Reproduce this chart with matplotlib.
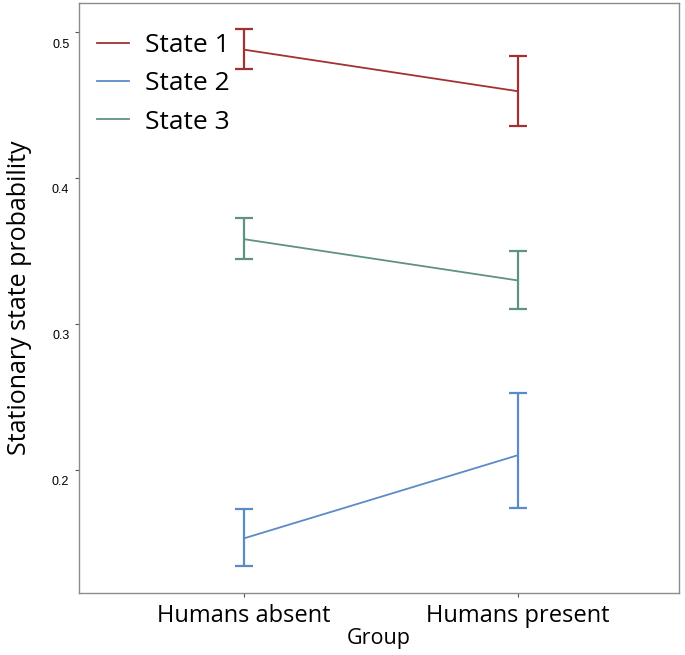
import numpy as np
import matplotlib
matplotlib.use("Agg")
import matplotlib.pyplot as plt
import matplotlib.transforms as mtransforms
from matplotlib.lines import Line2D

groups = ["Humans absent", "Humans present"]
states = ["State 1", "State 2", "State 3"]
means = {"State 1": [0.488, 0.4595],
         "State 2": [0.1528, 0.2098],
         "State 3": [0.358, 0.3297]}
upper = {"State 1": [0.5025, 0.4837],
         "State 2": [0.1732, 0.2522],
         "State 3": [0.3723, 0.3496]}
lower = {"State 1": [0.4746, 0.4353],
         "State 2": [0.1338, 0.1736],
         "State 3": [0.3441, 0.3098]}
colors = {"State 1": "#A23232", "State 2": "#5B8BC7", "State 3": "#5F937D"}
yticks = [0.2, 0.3, 0.4, 0.5]

fig = plt.figure(figsize=(6.85, 6.55), dpi=100)
ax = fig.add_axes([79 / 685, 1 - 593 / 655, 600 / 685, 590 / 655])

x = np.arange(1, len(groups) + 1)
for s in states:
    m = np.array(means[s])
    err = [m - np.array(lower[s]), np.array(upper[s]) - m]
    ax.errorbar(x, m, yerr=err, color=colors[s], lw=1.3, elinewidth=1.6,
                capsize=6.2, capthick=1.6)

ax.set_xlim(0.397, 2.589)
ax.set_ylim(0.1153, 0.52)
ax.set_xticks(x)
ax.set_xticklabels(groups, fontsize=17, family="Open Sans")
ax.set_yticks(yticks)
ax.set_yticklabels([f"{t:.1f}" for t in yticks], fontsize=9, family="Liberation Sans")

for sp in ax.spines.values():
    sp.set_color("#8c8c8c")
    sp.set_linewidth(1.0)
ax.tick_params(axis="both", colors="#555555", length=3, width=0.8)
ax.tick_params(axis="y", labelcolor="black", pad=4)
ax.tick_params(axis="x", labelcolor="black", pad=5)

# tick labels sit slightly below their ticks in the original
offset = mtransforms.ScaledTranslation(0, -11 / 100, fig.dpi_scale_trans)
for tick in ax.yaxis.get_major_ticks():
    tick.label1.set_transform(tick.label1.get_transform() + offset)

ax.set_xlabel("Group", fontsize=15.5, family="Open Sans", labelpad=0)
ax.set_ylabel("Stationary state probability", fontsize=18, family="Open Sans", labelpad=14)

handles = [Line2D([], [], color=colors[s], lw=1.3) for s in states]
ax.legend(handles, states, loc="upper left", frameon=False,
          prop={"family": "Open Sans", "size": 19},
          handlelength=1.2, handletextpad=0.6, labelspacing=0.5,
          borderaxespad=0.3, bbox_to_anchor=(0.0, 0.98))

fig.savefig("out.png", dpi=100)
